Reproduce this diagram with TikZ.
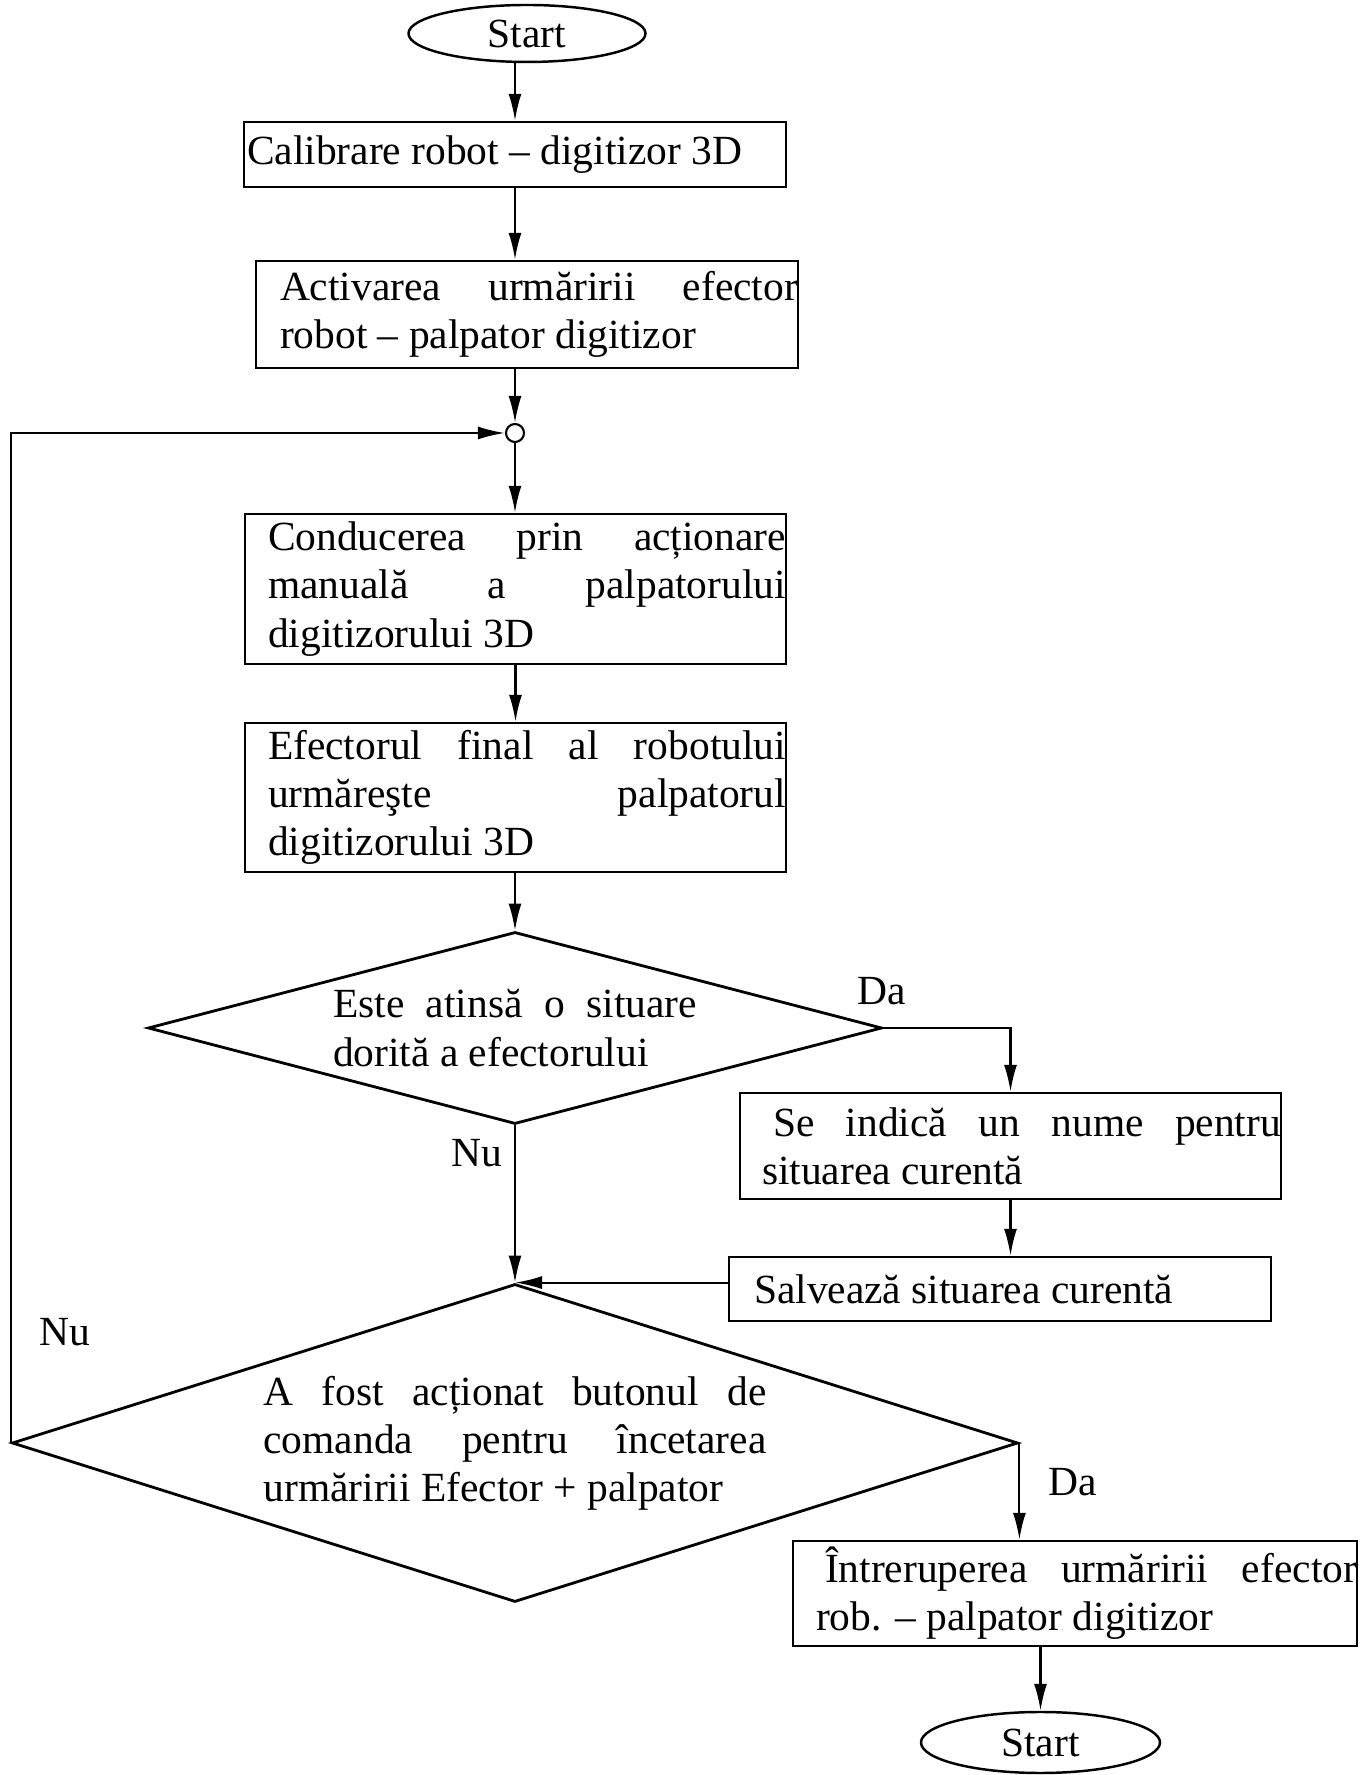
\documentclass[tikz,border=0pt]{standalone}
\usepackage{fontspec}
\setmainfont{Liberation Serif}
\usetikzlibrary{shapes.geometric,arrows.meta}

\newcommand{\flowfont}{\fontsize{11.8pt}{13.7pt}\selectfont}
% padded, justified text block: #1 left pad, #2 box width, #3 text
\newcommand{\boxtext}[3]{\hspace*{#1}\parbox{\dimexpr#2-#1\relax}{#3}}

\begin{document}
\begin{tikzpicture}[
    every node/.style={font=\flowfont},
    proc/.style={draw, rectangle, line width=0.7pt, inner sep=0pt},
    term/.style={draw, ellipse, line width=0.7pt, inner sep=0pt},
    decision/.style={draw, diamond, line width=0.8pt, inner sep=0pt, align=justify},
    junction/.style={draw, circle, line width=0.6pt, minimum size=0.18cm, inner sep=0pt},
    flow/.style={line width=0.6pt, -{Latex[length=0.27cm, width=0.13cm]}},
    lbl/.style={inner sep=0pt}
  ]
  \useasboundingbox (0,0) rectangle (13.64,17.75);

  % ---- start / end ----
  \node[term, minimum width=2.37cm, minimum height=0.57cm] (start) at (5.27,17.415) {Start};
  \node[term, minimum width=2.39cm, minimum height=0.61cm] (fin) at (10.405,0.325) {Start};

  % ---- main column ----
  \node[proc, minimum height=0.65cm] (calib) at (5.15,16.205)
    {\boxtext{0.03cm}{5.42cm}{Calibrare robot -- digitizor 3D}};
  \node[proc, minimum height=1.07cm] (act) at (5.27,14.605)
    {\boxtext{0.24cm}{5.42cm}{Activarea urmăririi efector\linebreak robot -- palpator digitizor}};
  \node[junction] (junc) at (5.15,13.42) {};
  \node[proc, minimum height=1.50cm] (cond) at (5.155,11.86)
    {\boxtext{0.23cm}{5.41cm}{Conducerea prin acționare\linebreak manuală a palpatorului\linebreak digitizorului 3D}};
  \node[proc, minimum height=1.49cm] (efect) at (5.155,9.775)
    {\boxtext{0.23cm}{5.41cm}{Efectorul final al robotului\linebreak urmăreşte palpatorul\linebreak digitizorului 3D}};

  % ---- decisions ----
  \node[decision, minimum width=7.34cm, minimum height=1.92cm, aspect=3.82, text width=3.64cm]
    (dec1) at (5.15,7.47) {Este atinsă o situare\linebreak dorită a efectorului};
  \node[decision, minimum width=10.06cm, minimum height=3.18cm, aspect=3.16, text width=5.03cm]
    (dec2) at (5.15,3.32)
    {A fost acționat butonul de\linebreak comanda pentru încetarea\linebreak urmăririi Efector + palpator};

  % ---- right branch ----
  \node[proc, minimum height=1.06cm] (name) at (10.105,6.29)
    {\boxtext{0.22cm}{5.41cm}{\hspace*{0.11cm}Se indică un nume pentru\linebreak situarea curentă}};
  \node[proc, minimum height=0.64cm] (save) at (10.00,4.86)
    {\boxtext{0.25cm}{5.42cm}{Salvează situarea curentă}};
  \node[proc, minimum height=1.05cm] (stop) at (10.75,1.815)
    {\boxtext{0.23cm}{5.64cm}{\hspace*{0.09cm}Întreruperea urmăririi efector\linebreak rob. -- palpator digitizor}};

  % ---- branch labels ----
  \node[lbl] (da1) at (8.82,7.84) {Da};
  \node[lbl, anchor=east] (nu1) at (5.03,6.22) {Nu};
  \node[lbl] (nu2) at (0.65,4.43) {Nu};
  \node[lbl] (da2) at (10.73,2.93) {Da};

  % ---- connectors ----
  \draw[flow] (start.south -| calib.north) -- (calib.north);
  \draw[flow] (calib.south) -- (calib.south |- act.north);
  \draw[flow] (junc |- act.south) -- (junc);
  \draw[flow] (junc) -- (junc |- cond.north);
  \draw[flow] (cond) -- (efect);
  \draw[flow] (efect.south -| dec1.north) -- (dec1.north);
  \draw[flow] (dec1) -- (dec2);
  \draw[flow] (dec1.east) -| (name.north);
  \draw[flow] (name.south) -- (name.south |- save.north);
  \draw[flow] (save.west |- dec2.north) -- (dec2.north);
  \draw[flow] (dec2.west) |- (junc);
  \draw[flow] (dec2.east) -- (dec2.east |- stop.north);
  \draw[flow] (fin.north |- stop.south) -- (fin.north);

\end{tikzpicture}
\end{document}
